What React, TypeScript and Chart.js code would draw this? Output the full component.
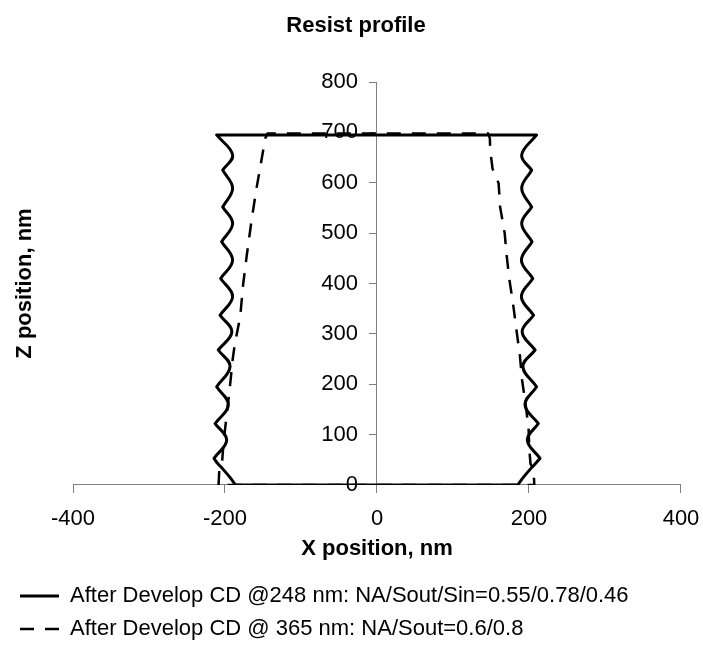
import React, { useEffect, useRef } from 'react';
import { Chart, registerables } from 'chart.js';

Chart.register(...registerables);
Chart.defaults.font.family = "'Liberation Sans', Arial, sans-serif";

// ---- Text ----
const CHART_TITLE = 'Resist profile';
const X_TITLE = 'X position, nm';
const Y_TITLE = 'Z position, nm';
const SERIES_248 = 'After Develop CD @248 nm: NA/Sout/Sin=0.55/0.78/0.46';
const SERIES_365 = 'After Develop CD @ 365 nm: NA/Sout=0.6/0.8';

// ---- Axis ranges / ticks ----
const X_MIN = -400;
const X_MAX = 400;
const X_STEP = 200;
const Y_MIN = 0;
const Y_MAX = 800;
const Y_STEP = 100;

// ---- 248 nm profile (solid): wall points bottom -> top (cusps repeated so they stay sharp) ----
const leftSolidZ = [0, 0, 16, 32, 45, 53, 53, 89, 122, 122, 159, 195, 195, 235, 268, 268, 304, 337, 337, 374, 410, 410, 446, 483, 483, 519, 552, 552, 589, 625, 625, 655, 695, 695];
const leftSolidX = [-186, -186, -194, -203, -211, -214.5, -214.5, -197.8, -213, -213, -195.6, -211, -211, -193.4, -208.8, -208.8, -191, -206.6, -206.6, -190, -205.7, -205.7, -190, -204.4, -204.4, -190, -203, -203, -190, -203, -203, -190, -211, -211];
const rightSolidZ = [0, 0, 16, 32, 45, 53, 53, 89, 122, 122, 159, 195, 195, 235, 268, 268, 304, 337, 337, 374, 410, 410, 446, 483, 483, 519, 552, 552, 589, 625, 625, 655, 695, 695];
const rightSolidX = [185, 185, 193, 202, 210, 214.5, 214.5, 197.8, 212.3, 212.3, 194.7, 210, 210, 192, 208, 208, 191, 206, 206, 190, 205, 205, 190, 204, 204, 190.4, 203.5, 203.5, 190.4, 203.5, 203.5, 190.4, 210, 210];

// ---- 365 nm profile (dashed): wall points bottom -> top ----
const leftDashZ = [0, 30, 42, 83, 123, 188, 248, 281, 334, 400, 460, 526, 585, 645, 688, 698];
const leftDashX = [-208.5, -207.5, -204, -202, -199, -194, -190, -187, -180, -176, -171, -165, -159, -152, -147, -144];
const rightDashZ = [0, 30, 42, 69, 110, 155, 207, 257, 308, 360, 410, 456, 500, 552, 599, 628, 665, 688, 698];
const rightDashX = [207, 206, 202, 200.5, 199.5, 196, 191, 188, 183.5, 179, 174, 170.6, 168, 162, 160, 152, 149, 148.5, 146];

function buildPath(lx: number[], lz: number[], rx: number[], rz: number[]) {
  const pts: { x: number; y: number }[] = [];
  for (let i = 0; i < lx.length; i++) pts.push({ x: lx[i], y: lz[i] });
  for (let i = rx.length - 1; i >= 0; i--) pts.push({ x: rx[i], y: rz[i] });
  pts.push({ x: lx[0], y: lz[0] });
  return pts;
}

export default function App() {
  const ref = useRef<HTMLCanvasElement>(null);

  useEffect(() => {
    if (!ref.current) return;
    const chart = new Chart(ref.current, {
      type: 'scatter',
      data: {
        datasets: [
          {
            label: SERIES_248,
            data: buildPath(leftSolidX, leftSolidZ, rightSolidX, rightSolidZ),
            showLine: true,
            borderColor: '#000',
            backgroundColor: '#000',
            borderWidth: 3,
            borderJoinStyle: 'round',
            pointRadius: 0,
            pointHoverRadius: 0,
            tension: 0.4,
            xAxisID: 'x',
            yAxisID: 'y',
          },
          {
            label: SERIES_365,
            data: buildPath(leftDashX, leftDashZ, rightDashX, rightDashZ),
            showLine: true,
            borderColor: '#000',
            backgroundColor: '#000',
            borderWidth: 2.5,
            borderDash: [14, 11],
            pointRadius: 0,
            pointHoverRadius: 0,
            tension: 0,
            xAxisID: 'x',
            yAxisID: 'y',
          },
        ],
      },
      options: {
        animation: false,
        responsive: true,
        maintainAspectRatio: false,
        layout: { padding: { left: 9, right: 0, top: 0, bottom: 0 } },
        plugins: {
          title: {
            display: true,
            text: CHART_TITLE,
            color: '#000',
            font: { size: 22, weight: 'bold' },
            padding: { top: 13, bottom: 42.6 },
          },
          legend: {
            position: 'bottom',
            align: 'start',
            maxHeight: 72,
            labels: {
              usePointStyle: true,
              pointStyle: 'line',
              pointStyleWidth: 39,
              padding: 11,
              color: '#000',
              font: { size: 22 },
              generateLabels: (c: any) =>
                c.data.datasets.map((ds: any, i: number) => ({
                  text: ds.label,
                  fillStyle: '#000',
                  strokeStyle: '#000',
                  fontColor: '#000',
                  lineWidth: ds.borderWidth,
                  lineDash: ds.borderDash || [],
                  lineCap: 'butt',
                  pointStyle: 'line',
                  hidden: false,
                  datasetIndex: i,
                })),
            },
          },
          tooltip: { enabled: false },
        },
        scales: {
          x: {
            type: 'linear',
            position: 'bottom',
            min: X_MIN,
            max: X_MAX,
            ticks: {
              stepSize: X_STEP,
              color: '#000',
              font: { size: 22, lineHeight: 2.032 },
              padding: 3.65,
              maxRotation: 0,
            },
            grid: { drawOnChartArea: false, drawTicks: true, tickLength: 8, color: '#808080' },
            border: { color: '#808080', width: 1 },
            title: {
              display: true,
              text: X_TITLE,
              color: '#000',
              font: { size: 22, weight: 'bold' },
              padding: { top: -9.2, bottom: 11.8 },
            },
          },
          y: {
            type: 'linear',
            position: 'center',
            min: Y_MIN,
            max: Y_MAX,
            ticks: { stepSize: Y_STEP, color: '#000', font: { size: 22 }, padding: 12 },
            grid: { drawOnChartArea: false, drawTicks: true, tickLength: 7, color: '#808080' },
            border: { color: '#808080', width: 1 },
          },
          yTitle: {
            type: 'linear',
            position: 'left',
            display: true,
            ticks: { display: false },
            grid: { display: false, drawTicks: false },
            border: { display: false },
            title: {
              display: true,
              text: Y_TITLE,
              color: '#000',
              font: { size: 22, weight: 'bold' },
              padding: { top: 2.8, bottom: 34.8 },
            },
          },
        },
      } as any,
    });
    return () => chart.destroy();
  }, []);

  return (
    <div style={{ position: 'absolute', left: 0, top: 0, width: 703, height: 646 }}>
      <canvas ref={ref} />
    </div>
  );
}
